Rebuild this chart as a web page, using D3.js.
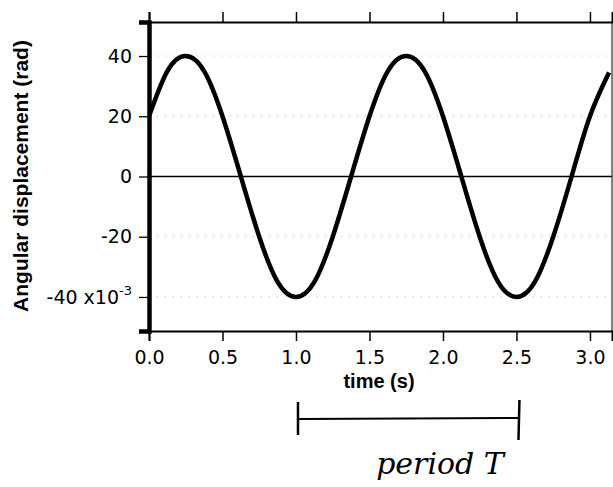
<!DOCTYPE html>
<html>
<head>
<meta charset="utf-8">
<script src="https://cdn.jsdelivr.net/npm/d3@7"></script>
<style>
  body { margin: 0; background: #fff; }
  svg { display: block; font-family: "Liberation Sans", Arial, sans-serif; }
</style>
</head>
<body>
<svg id="chart" width="613" height="487"></svg>
<script>
// values (time in s, displacement in 1e-3 rad)
var times = [0, 0.125, 0.25, 0.375, 0.5, 0.625, 0.75, 0.875, 1.0, 1.125, 1.25, 1.375, 1.5,
	1.625, 1.75, 1.875, 2.0, 2.125, 2.25, 2.375, 2.5, 2.625, 2.75, 2.875, 3.0, 3.13];
var angles = [20, 35, 40, 35, 20, 0, -20, -35, -40, -35, -20, 0, 20,
	35, 40, 35, 20, 0, -20, -35, -40, -35, -20, 0, 20, 34.5];
var xTicks = [0, 0.5, 1.0, 1.5, 2.0, 2.5, 3.0];
var yTicks = [40, 20, 0, -20, -40];
var periodSpan = [1.0, 2.5];

var svg = d3.select("#chart");
var mLeft = 149, mRight = 612, mTop = 22, mBottom = 331;
var tickFont = "'DejaVu Sans', sans-serif";

var x = d3.scaleLinear().domain([0, 3.15]).range([mLeft, mRight]);
var y = d3.scaleLinear().domain([-51.3, 51.3]).range([mBottom, mTop]);

// dotted grid
svg.append("g")
	.selectAll("line")
	.data(yTicks.filter(function(d) { return d !== 0; }))
	.enter()
	.append("line")
	.attr("x1", mLeft).attr("x2", mRight)
	.attr("y1", function(d) { return y(d); })
	.attr("y2", function(d) { return y(d); })
	.attr("stroke", "#bbb")
	.attr("stroke-width", 1)
	.attr("stroke-dasharray", "1,7");

// zero line
svg.append("line")
	.attr("x1", mLeft).attr("x2", mRight)
	.attr("y1", y(0)).attr("y2", y(0))
	.attr("stroke", "#000")
	.attr("stroke-width", 1.3);

// bottom axis
var xAxis = svg.append("g")
	.attr("transform", "translate(0," + mBottom + ")")
	.call(d3.axisBottom(x).tickValues(xTicks).tickSize(10).tickPadding(10)
		.tickFormat(d3.format(".1f")));
xAxis.select(".domain").attr("stroke-width", 2);
xAxis.selectAll(".tick line").attr("stroke-width", 1.5);
xAxis.selectAll("text").attr("font-size", 19).attr("font-family", tickFont).attr("fill", "#000");

// top axis (ticks only)
var xTop = svg.append("g")
	.attr("transform", "translate(0," + mTop + ")")
	.call(d3.axisTop(x).tickValues(xTicks).tickSize(10).tickFormat(""));
xTop.select(".domain").attr("stroke-width", 2);
xTop.selectAll(".tick line").attr("stroke-width", 1.5);

// left axis
var yAxis = svg.append("g")
	.attr("transform", "translate(" + mLeft + ",0)")
	.call(d3.axisLeft(y).tickValues(yTicks).tickSize(10).tickPadding(7)
		.tickFormat(function(d) { return d === -40 ? "" : d; }));
yAxis.select(".domain").attr("stroke-width", 4.5);
yAxis.selectAll(".tick line").attr("stroke-width", 1.3);
yAxis.selectAll("text").attr("font-size", 19).attr("font-family", tickFont).attr("fill", "#000");

// -40 x10^-3 label
var lab = svg.append("text")
	.attr("x", mLeft - 17)
	.attr("y", y(-40) + 7)
	.attr("text-anchor", "end")
	.attr("font-family", tickFont)
	.attr("font-size", 19);
lab.append("tspan").text("-40 x10");
lab.append("tspan").attr("dy", -9).attr("font-size", 13).text("-3");

// right edge
svg.append("line")
	.attr("x1", mRight).attr("x2", mRight)
	.attr("y1", mTop).attr("y2", mBottom)
	.attr("stroke", "#000").attr("stroke-width", 1);

// curve
svg.append("clipPath").attr("id", "plot")
	.append("rect")
	.attr("x", mLeft).attr("y", mTop)
	.attr("width", mRight - mLeft).attr("height", mBottom - mTop);

var line = d3.line()
	.x(function(d, i) { return x(times[i]); })
	.y(function(d) { return y(d); })
	.curve(d3.curveNatural);

svg.append("path")
	.datum(angles)
	.attr("d", line)
	.attr("fill", "none")
	.attr("stroke", "#000")
	.attr("stroke-width", 4.5)
	.attr("clip-path", "url(#plot)");

// axis titles
svg.append("text")
	.attr("x", 379)
	.attr("y", 388)
	.attr("text-anchor", "middle")
	.attr("font-size", 20)
	.attr("font-weight", "bold")
	.text("time (s)");

svg.append("text")
	.attr("transform", "translate(28,176) rotate(-90)")
	.attr("text-anchor", "middle")
	.attr("font-size", 21)
	.attr("font-weight", "bold")
	.text("Angular displacement (rad)");

// period bracket
var by = 419;
svg.append("line")
	.attr("x1", x(periodSpan[0]) + 2).attr("x2", x(periodSpan[1]) + 2)
	.attr("y1", by).attr("y2", by - 1)
	.attr("stroke", "#000").attr("stroke-width", 2);
svg.append("line")
	.attr("x1", x(periodSpan[0]) + 2).attr("x2", x(periodSpan[0]) + 2)
	.attr("y1", by - 17).attr("y2", by + 16)
	.attr("stroke", "#000").attr("stroke-width", 2.5);
svg.append("line")
	.attr("x1", x(periodSpan[1]) + 3).attr("x2", x(periodSpan[1]) + 2)
	.attr("y1", by - 19).attr("y2", by + 21)
	.attr("stroke", "#000").attr("stroke-width", 2.5);

svg.append("text")
	.attr("x", 440)
	.attr("y", 474)
	.attr("text-anchor", "middle")
	.attr("font-family", "'DejaVu Serif', serif")
	.attr("font-style", "italic")
	.attr("font-size", 30)
	.text("period T");
</script>
</body>
</html>
